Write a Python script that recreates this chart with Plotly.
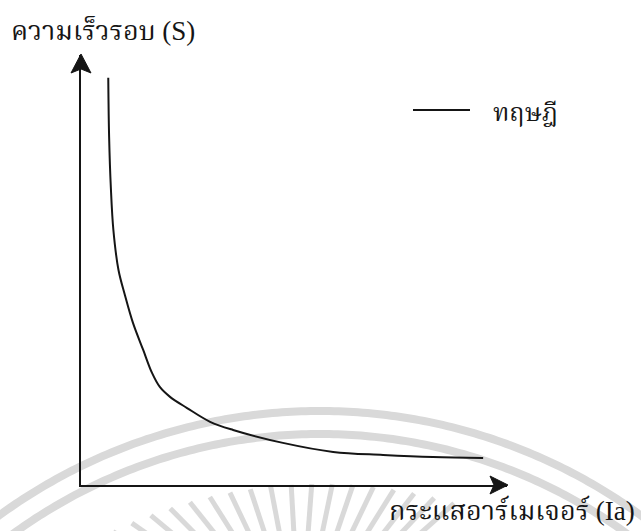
import numpy as np
import plotly.graph_objects as go

# Series speed vs armature current (arbitrary units)
ia = [0.64, 0.66, 0.70, 0.76, 0.88, 1.03, 1.22, 1.46, 1.67, 1.85, 2.09, 2.49, 3.03,
      3.57, 4.74, 5.92, 7.09, 8.26, 9.44]
speed = [9.47, 8.09, 6.93, 5.93, 5.00, 4.42, 3.77, 3.14, 2.60, 2.28, 2.05, 1.79, 1.47,
         1.28, 0.98, 0.77, 0.70, 0.65, 0.63]

legend_name = "ทฤษฎี"
x_title = "กระแสอาร์เมเจอร์ (Ia)"
y_title = "ความเร็วรอบ (S)"

W, H = 641, 531
L, R, T, B = 81, 134, 55, 46
PW, PH = W - L - R, H - T - B


def px(x):
    return (x - L) / PW


def py(y):
    return (H - B - y) / PH


def path(points):
    return "M " + " L ".join(f"{px(x):.5f},{py(y):.5f}" for x, y in points) + " Z"


def polyline(points):
    return "M " + " L ".join(f"{px(x):.5f},{py(y):.5f}" for x, y in points)


ink = "#151515"
mark = "#d9d9d9"
font_family = "Liberation Serif, 'Noto Serif Thai', 'TH Sarabun New', serif"

fig = go.Figure()
fig.add_trace(go.Scatter(
    x=ia, y=speed, mode="lines", name=legend_name, showlegend=False,
    line=dict(color=ink, width=2, shape="spline", smoothing=1.0),
    hoverinfo="skip",
))

shapes = []

# faint emblem in the background: two arcs and a fan of rays
cx, cy = 320, 956
for rad in (545, 522):
    pts = []
    for a in np.linspace(-40, 40, 161):
        t = np.radians(a)
        pts.append((cx + rad * np.sin(t), cy - rad * np.cos(t)))
    shapes.append(dict(type="path", path=polyline(pts), xref="paper", yref="paper",
                       line=dict(color=mark, width=8), layer="below"))

fx, fy = 300, 640
for a in np.arange(-26, 17, 2.5):
    t = np.radians(a)
    x0, y0 = cx + 472 * np.sin(t), cy - 472 * np.cos(t)
    dx, dy = fx - x0, fy - y0
    n = np.hypot(dx, dy)
    x1, y1 = x0 + 90 * dx / n, y0 + 90 * dy / n
    shapes.append(dict(type="path", path=polyline([(x0, y0), (x1, y1)]),
                       xref="paper", yref="paper",
                       line=dict(color=mark, width=5), layer="below"))

# arrowheads on the axes
shapes.append(dict(type="path", xref="paper", yref="paper",
                   path=path([(81, 54), (91, 73), (81, 69), (71, 73)]),
                   fillcolor=ink, line=dict(color=ink, width=1)))
shapes.append(dict(type="path", xref="paper", yref="paper",
                   path=path([(508, 485), (490, 494), (494, 485), (490, 476)]),
                   fillcolor=ink, line=dict(color=ink, width=1)))

# legend key
shapes.append(dict(type="line", xref="paper", yref="paper",
                   x0=px(413), x1=px(470), y0=py(110), y1=py(110),
                   line=dict(color=ink, width=2)))

annotations = [
    dict(text=y_title, xref="paper", yref="paper", x=px(9), y=py(31),
         xanchor="left", yanchor="middle", showarrow=False,
         font=dict(family=font_family, size=27, color=ink)),
    dict(text=x_title, xref="paper", yref="paper", x=px(637), y=py(511),
         xanchor="right", yanchor="middle", showarrow=False,
         font=dict(family=font_family, size=27, color=ink)),
    dict(text=legend_name, xref="paper", yref="paper", x=px(491), y=py(113),
         xanchor="left", yanchor="middle", showarrow=False,
         font=dict(family=font_family, size=25, color=ink)),
]

axis_common = dict(showgrid=False, zeroline=False, showticklabels=False, ticks="",
                   showline=True, linecolor=ink, linewidth=2, fixedrange=True)

fig.update_layout(
    width=W, height=H,
    margin=dict(l=L, r=R, t=T, b=B, pad=0),
    paper_bgcolor="white", plot_bgcolor="rgba(0,0,0,0)",
    xaxis=dict(range=[0, 10], **axis_common),
    yaxis=dict(range=[0, 10], **axis_common),
    shapes=shapes, annotations=annotations,
    showlegend=False,
)

fig.write_html("out.html")
